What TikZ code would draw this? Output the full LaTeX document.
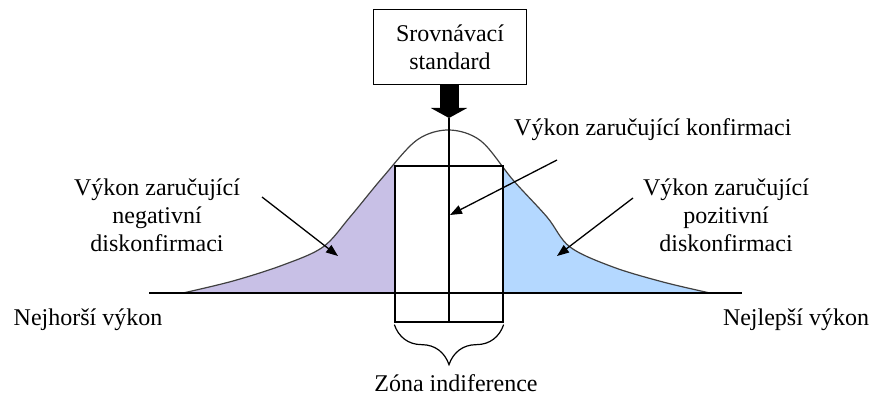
\documentclass[tikz,border=0pt]{standalone}
\usepackage{fontspec}
\setmainfont{Liberation Serif}
\usepackage{xcolor}
\usetikzlibrary{arrows.meta,positioning,decorations.pathreplacing}
\definecolor{negfill}{RGB}{200,192,230}
\definecolor{posfill}{RGB}{180,216,255}

\begin{document}
\begin{tikzpicture}[
    x=1pt, y=-1pt,
    txt/.style={font=\fontsize{24}{28}\selectfont, align=center, inner sep=0pt},
    stdbox/.style={draw, line width=1.2pt, minimum width=153pt, minimum height=75pt, txt},
    zonebox/.style={draw, line width=1.3pt, minimum width=108pt, minimum height=156pt, inner sep=0pt},
    pointer/.style={-{Triangle[length=12pt,width=9pt]}, line width=1.3pt},
    bigarrow/.style={line width=19pt, -{Triangle[length=10pt,width=36pt]}},
    baseline/.style={line width=1.3pt},
    bell/.style={line width=1.2pt, black!75},
]
\useasboundingbox (0,0) rectangle (871,396);
\def\bellpath{plot[smooth, tension=0.55] coordinates {(183,293) (233,281) (283,265) (323,247) (350,217) (383,177) (417,140) (449,130) (481,141) (513,180) (547,217) (570,247) (613,267) (663,282) (710,293)}}

% Shaded tails
\begin{scope}
  \clip (183,100) rectangle (395,293);
  \fill[negfill] \bellpath -- cycle;
\end{scope}
\begin{scope}
  \clip (503,100) rectangle (710,293);
  \fill[posfill] \bellpath -- cycle;
\end{scope}

% Curve and axis
\draw[bell] \bellpath;
\coordinate (worst) at (149,293);
\coordinate (best) at (742,293);
\draw[baseline] (worst) -- (best);

% Zone of indifference
\node[zonebox] (zone) at (449,244) {};
\node[stdbox] (std) at (450,47) {Srovnávací\\standard};
\coordinate (tip) at (449,118);
\draw[bigarrow] (std.south -| tip) -- (tip);
\draw[line width=1.3pt] (tip) -- (tip |- zone.south);
\draw[line width=1.2pt, decorate, decoration={brace, amplitude=40pt}]
    ([yshift=-2pt]zone.south east) -- ([yshift=-2pt]zone.south west);

% Labels
\node[txt] (neglabel) at (157,215) {Výkon zaručující\\negativní\\diskonfirmaci};
\node[txt] (poslabel) at (726,215) {Výkon zaručující\\pozitivní\\diskonfirmaci};
\node[txt, anchor=west] (conflabel) at (514,130) {Výkon zaručující konfirmaci};
\node[txt] (worstlabel) at (88,320) {Nejhorší výkon};
\node[txt] (bestlabel) at (796,320) {Nejlepší výkon};
\node[txt] (zonelabel) at (456,383) {Zóna indiference};

% Pointers
\coordinate (negfrom) at (262,197);
\coordinate (negto) at (338,256);
\coordinate (posfrom) at (633,198);
\coordinate (posto) at (557,256);
\coordinate (conffrom) at (557,160);
\coordinate (confto) at (450,215);
\draw[pointer] (negfrom) -- (negto);
\draw[pointer] (posfrom) -- (posto);
\draw[pointer] (conffrom) -- (confto);
\end{tikzpicture}
\end{document}
